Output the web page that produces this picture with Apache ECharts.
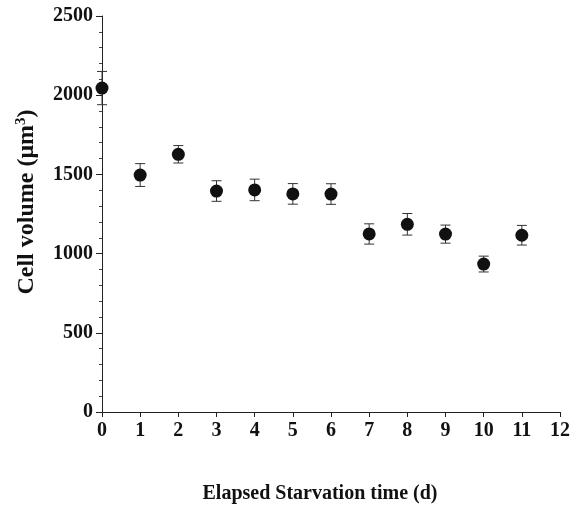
<!DOCTYPE html>
<html><head><meta charset="utf-8">
<script src="https://cdn.jsdelivr.net/npm/echarts@6/dist/echarts.min.js"></script>
<style>html,body{margin:0;padding:0;background:#fff}#c{width:575px;height:510px}</style>
</head><body><div id="c"></div>
<script>
const days = [0,1,2,3,4,5,6,7,8,9,10,11];
const volumes = [2045,1496,1627,1395,1402,1377,1376,1124,1185,1123,934,1116];
const errors = [105,72,55,65,68,65,65,64,68,57,50,62];
const xTicks = [0,1,2,3,4,5,6,7,8,9,10,11,12];
const yTicks = [0,500,1000,1500,2000,2500];

const font = '"Liberation Serif", "Times New Roman", serif';
const chart = echarts.init(document.getElementById('c'));
const errData = days.map((d,i)=>[d, volumes[i]-errors[i], volumes[i]+errors[i]]);
chart.setOption({
  animation:false,
  backgroundColor:'#fff',
  grid:{left:102,right:15,top:16,bottom:98,containLabel:false,outerBoundsMode:'none'},
  xAxis:{type:'value',min:xTicks[0],max:xTicks[xTicks.length-1],interval:1,
    axisLine:{lineStyle:{color:'#222',width:1}},
    axisTick:{length:5,lineStyle:{color:'#222'}},
    splitLine:{show:false},
    axisLabel:{color:'#111',fontFamily:font,fontWeight:'bold',fontSize:20,margin:9,formatter:v=>String(v)},
    name:'Elapsed Starvation time (d)',nameLocation:'middle',nameGap:72,
    nameTextStyle:{color:'#111',fontFamily:font,fontWeight:'bold',fontSize:20,padding:[0,22,0,0]}
  },
  yAxis:{type:'value',min:yTicks[0],max:yTicks[yTicks.length-1],interval:500,
    axisLine:{show:true,lineStyle:{color:'#222',width:1}},
    axisTick:{show:true,length:6,lineStyle:{color:'#222'}},
    minorTick:{show:true,splitNumber:5,length:3,lineStyle:{color:'#444'}},
    splitLine:{show:false},
    axisLabel:{color:'#111',fontFamily:font,fontWeight:'bold',fontSize:20,margin:9,formatter:v=>String(v)},
    name:'{a|Cell volume (μm}{s|3}{a|)}',nameLocation:'middle',nameGap:63,nameRotate:90,
    nameTextStyle:{padding:[0,0,0,24],rich:{
      a:{color:'#111',fontFamily:font,fontWeight:'bold',fontSize:24},
      s:{color:'#111',fontFamily:font,fontWeight:'bold',fontSize:15,verticalAlign:'top',padding:[0,0,10,0]}
    }}
  },
  series:[
    {type:'custom',data:errData,z:2,
     renderItem:function(params,api){
       const x=api.value(0), lo=api.value(1), hi=api.value(2);
       const pl=api.coord([x,lo]), ph=api.coord([x,hi]);
       const w=5;
       const st={stroke:'#333',lineWidth:1};
       return {type:'group',children:[
         {type:'line',shape:{x1:pl[0],y1:pl[1],x2:ph[0],y2:ph[1]},style:st},
         {type:'line',shape:{x1:pl[0]-w,y1:pl[1],x2:pl[0]+w,y2:pl[1]},style:st},
         {type:'line',shape:{x1:ph[0]-w,y1:ph[1],x2:ph[0]+w,y2:ph[1]},style:st}
       ]};
     }},
    {type:'scatter',data:days.map((d,i)=>[d,volumes[i]]),symbol:'circle',symbolSize:13,z:3,
     itemStyle:{color:'#111',opacity:1}}
  ]
});
</script></body></html>
